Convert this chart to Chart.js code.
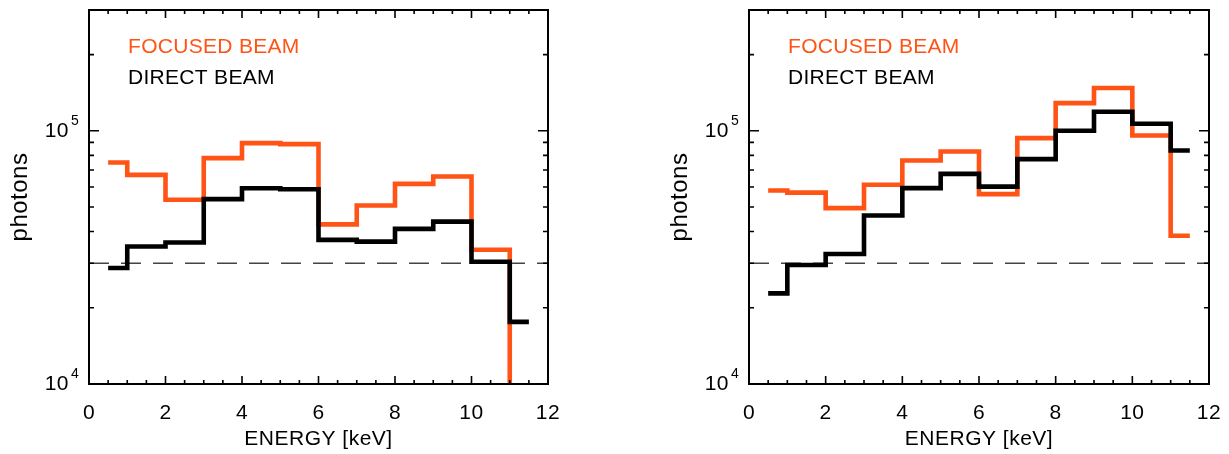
<!DOCTYPE html>
<html>
<head>
<meta charset="utf-8">
<script src="https://cdn.jsdelivr.net/npm/chart.js@4"></script>
<style>
  body { margin: 0; background: #fff; }
  #wrap { position: relative; width: 1229px; height: 454px; background: #fff; }
  .panel { position: absolute; top: 0; }
</style>
</head>
<body>
<div id="wrap">
  <div class="panel" style="left:0px"><canvas id="leftChart" width="620" height="454"></canvas></div>
  <div class="panel" style="left:660px"><canvas id="rightChart" width="569" height="454"></canvas></div>
</div>
<script>
// bin centres (IDL psym=10 style histogram)
const energyBins = [0.5, 1.5, 2.5, 3.5, 4.5, 5.5, 6.5, 7.5, 8.5, 9.5, 10.5, 11.5];

// left panel
const leftFocused = [75000, 67000, 53400, 78000, 89400, 88600, 42700, 50700, 61700, 66000, 33900, 5000];
const leftDirect  = [28700, 34900, 36200, 53700, 59300, 58800, 37100, 36500, 41000, 43800, 30400, 17600];

// right panel
const rightFocused = [58100, 57000, 49500, 61200, 76300, 82900, 56200, 93600, 128600, 147500, 95800, 38500];
const rightDirect  = [22800, 29500, 32600, 46300, 59400, 67600, 60200, 77300, 100000, 119000, 106600, 83600];

// dashed reference level
const thresholdLevel = 30000;

// axis ticks
const xMajorTicks = [0, 2, 4, 6, 8, 10, 12];
const xMinorTicks = [0.5, 1, 1.5, 2.5, 3, 3.5, 4.5, 5, 5.5, 6.5, 7, 7.5, 8.5, 9, 9.5, 10.5, 11, 11.5];
const yMajorTicks = [10000, 100000];
const yTickBase = ['10', '10'];
const yTickExponents = ['4', '5'];
const yMinorTicks = [20000, 30000, 40000, 50000, 60000, 70000, 80000, 90000, 200000, 300000];

const ORANGE = '#ff5416';
const FONT = '"Liberation Sans", Arial, sans-serif';

Chart.defaults.font.family = FONT;
Chart.defaults.font.size = 21;
Chart.defaults.color = '#000';

// frame, inward ticks on all four sides, exponents and the text legend
const frameTicks = {
    id: 'frameTicks',
    beforeDraw(chart) {
        chart.ctx.letterSpacing = '0.5px';
    },
    afterDatasetsDraw(chart) {
        const { ctx, chartArea: a, scales: { x, y } } = chart;
        ctx.save();
        ctx.strokeStyle = '#000';
        ctx.lineCap = 'butt';

        ctx.lineWidth = 1.6;
        ctx.beginPath();
        xMajorTicks.concat(xMinorTicks).forEach(v => {
            const px = x.getPixelForValue(v);
            const len = xMajorTicks.includes(v) ? 8 : 4;
            ctx.moveTo(px, a.bottom); ctx.lineTo(px, a.bottom - len);
            ctx.moveTo(px, a.top); ctx.lineTo(px, a.top + len);
        });
        yMajorTicks.concat(yMinorTicks).forEach(v => {
            const py = y.getPixelForValue(v);
            const len = yMajorTicks.includes(v) ? 10 : 5;
            ctx.moveTo(a.left, py); ctx.lineTo(a.left + len, py);
            ctx.moveTo(a.right, py); ctx.lineTo(a.right - len, py);
        });
        ctx.stroke();

        ctx.lineWidth = 2;
        ctx.strokeRect(a.left, a.top, a.right - a.left, a.bottom - a.top);

        // exponents of the y tick labels
        ctx.fillStyle = '#000';
        ctx.font = '14px ' + FONT;
        ctx.letterSpacing = '0px';
        ctx.textAlign = 'left';
        ctx.textBaseline = 'alphabetic';
        yMajorTicks.forEach((v, i) => {
            ctx.fillText(yTickExponents[i], a.left - 18, y.getPixelForValue(v) - 6);
        });

        // legend text
        ctx.font = '21px ' + FONT;
        ctx.letterSpacing = '0.3px';
        ctx.textBaseline = 'middle';
        const focusedSet = chart.data.datasets[1];
        const directSet = chart.data.datasets[0];
        ctx.fillStyle = focusedSet.borderColor;
        ctx.fillText(focusedSet.label, a.left + 39, a.top + 37);
        ctx.fillStyle = directSet.borderColor;
        ctx.fillText(directSet.label, a.left + 39, a.top + 68);
        ctx.restore();
    }
};

function toPoints(values) {
    return values.map((v, i) => ({ x: energyBins[i], y: v }));
}

function makeChart(canvasId, focused, direct, rightPad) {
    return new Chart(document.getElementById(canvasId), {
        type: 'line',
        data: {
            datasets: [
                {
                    label: 'DIRECT BEAM',
                    data: toPoints(direct),
                    borderColor: '#000',
                    borderWidth: 4.6,
                    stepped: 'middle',
                    pointRadius: 0,
                    borderJoinStyle: 'miter',
                    order: 0,
                    clip: 0
                },
                {
                    label: 'FOCUSED BEAM',
                    data: toPoints(focused),
                    borderColor: ORANGE,
                    borderWidth: 4.6,
                    stepped: 'middle',
                    pointRadius: 0,
                    borderJoinStyle: 'miter',
                    order: 1,
                    clip: 0
                },
                {
                    label: 'level',
                    data: [{ x: 0, y: thresholdLevel }, { x: 12, y: thresholdLevel }],
                    borderColor: '#444',
                    borderWidth: 1.5,
                    borderDash: [20, 12],
                    pointRadius: 0,
                    order: 2
                }
            ]
        },
        options: {
            responsive: false,
            animation: false,
            layout: { padding: { top: 10, right: rightPad, left: 0, bottom: 0 } },
            plugins: {
                legend: { display: false },
                tooltip: { enabled: false }
            },
            scales: {
                x: {
                    type: 'linear',
                    min: 0,
                    max: 12,
                    grid: { display: false, drawTicks: false },
                    border: { display: false },
                    ticks: { stepSize: 2, padding: 17, maxRotation: 0, autoSkip: false },
                    title: { display: true, text: 'ENERGY [keV]', padding: { top: 0, bottom: 2 } },
                    afterFit(scale) {
                        scale.height = 70;
                        scale.paddingLeft = 0;
                        scale.paddingRight = 0;
                    }
                },
                y: {
                    type: 'logarithmic',
                    min: 10000,
                    max: 300000,
                    grid: { display: false, drawTicks: false },
                    border: { display: false },
                    afterBuildTicks(scale) {
                        scale.ticks = yMajorTicks.map(v => ({ value: v }));
                    },
                    ticks: {
                        padding: 20,
                        autoSkip: false,
                        callback: (value, index) => yTickBase[index]
                    },
                    title: { display: true, text: 'photons', font: { size: 24 }, padding: { top: 6, bottom: 0 } },
                    afterFit(scale) {
                        scale.width = 89;
                        scale.paddingTop = 0;
                        scale.paddingBottom = 0;
                    }
                }
            }
        },
        plugins: [frameTicks]
    });
}

makeChart('leftChart', leftFocused, leftDirect, 72);
makeChart('rightChart', rightFocused, rightDirect, 20);
</script>
</body>
</html>
